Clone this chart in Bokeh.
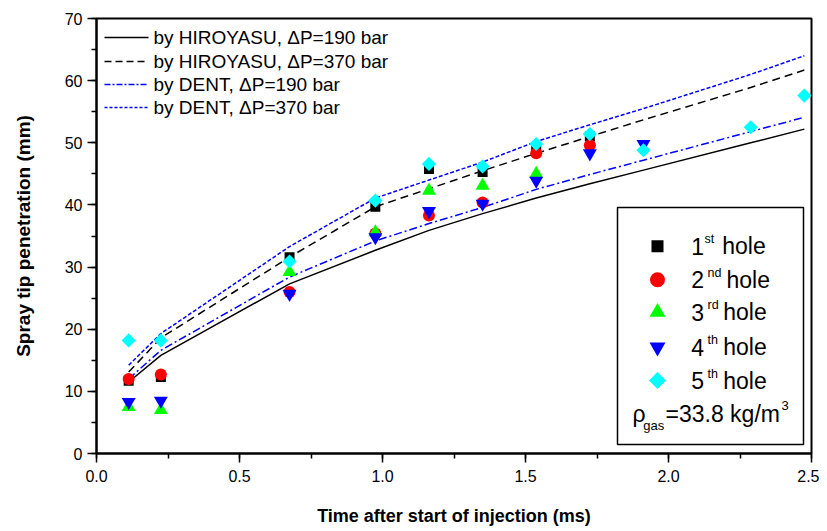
import numpy as np
from bokeh.plotting import figure
from bokeh.models import Range1d, SingleIntervalTicker, PrintfTickFormatter, Label
from bokeh.embed import file_html
from bokeh.resources import INLINE

# ---------------- data ----------------
times = [0.1125, 0.225, 0.675, 0.975, 1.1625, 1.35, 1.5375, 1.725, 1.9125, 2.2875, 2.475]

hiroyasu_190 = [11.5, 15.8, 27.3, 32.7, 35.9, 38.6, 41.1, 43.4, 45.6, 50.0, 52.2]
hiroyasu_370 = [13.1, 18.6, 31.6, 39.7, 42.6, 45.5, 48.3, 51.0, 53.7, 58.9, 61.7]
dent_190 = [12.0, 16.6, 28.4, 34.2, 37.0, 39.6, 42.5, 44.9, 47.2, 51.8, 54.1]
dent_370 = [14.2, 19.3, 33.3, 41.1, 44.0, 46.9, 50.2, 52.9, 55.5, 61.0, 64.0]

hole1_t = [0.1125, 0.225, 0.675, 0.975, 1.1625, 1.35, 1.5375, 1.725]
hole1_s = [11.7, 12.3, 31.6, 39.7, 45.8, 45.3, 48.8, 51.0]
hole2_t = [0.1125, 0.225, 0.675, 0.975, 1.1625, 1.35, 1.5375, 1.725]
hole2_s = [12.0, 12.7, 26.0, 35.4, 38.3, 40.4, 48.3, 49.6]
hole3_t = [0.1125, 0.225, 0.675, 0.975, 1.1625, 1.35, 1.5375]
hole3_s = [7.5, 7.0, 29.2, 35.6, 42.3, 43.1, 45.0]
hole4_t = [0.1125, 0.225, 0.675, 0.975, 1.1625, 1.35, 1.5375, 1.725, 1.9125]
hole4_s = [8.3, 8.5, 25.7, 34.8, 39.0, 40.2, 43.9, 48.3, 49.8]
hole5_t = [0.1125, 0.225, 0.675, 0.975, 1.1625, 1.35, 1.5375, 1.725, 1.9125, 2.2875, 2.475]
hole5_s = [18.2, 18.2, 30.9, 40.7, 46.6, 46.2, 49.8, 51.4, 48.8, 52.5, 57.6]

line_labels = ["by HIROYASU, \u0394P=190 bar", "by HIROYASU, \u0394P=370 bar",
               "by DENT, \u0394P=190 bar", "by DENT, \u0394P=370 bar"]
hole_nums = ["1", "2", "3", "4", "5"]
hole_sups = ["st", "nd", "rd", "th", "th"]
x_title = "Time after start of injection (ms)"
y_title = "Spray tip penetration (mm)"

# ---------------- figure ----------------
FW, FH = 715, 435
FONT = "Liberation Sans"

p = figure(width=819, height=531, output_backend="svg", toolbar_location=None,
           x_range=Range1d(0, 2.5), y_range=Range1d(0, 70),
           min_border_left=96, min_border_right=8, min_border_top=18, min_border_bottom=78)
p.extra_x_ranges = {"px": Range1d(0, FW)}
p.extra_y_ranges = {"py": Range1d(0, FH)}
p.grid.visible = False
p.outline_line_color = "black"
p.outline_line_width = 2
p.background_fill_color = "white"
p.border_fill_color = "white"

p.xaxis.ticker = SingleIntervalTicker(interval=0.5, num_minor_ticks=2)
p.yaxis.ticker = SingleIntervalTicker(interval=10, num_minor_ticks=2)
p.xaxis.formatter = PrintfTickFormatter(format="%.1f")
for ax in (p.xaxis, p.yaxis):
    ax.axis_line_width = 2
    ax.axis_line_color = "black"
    ax.major_tick_line_width = 1.5
    ax.minor_tick_line_width = 1.5
    ax.major_tick_in = 0
    ax.major_tick_out = 9
    ax.minor_tick_in = 0
    ax.minor_tick_out = 5
    ax.major_label_text_color = "black"
    ax.major_label_text_font = FONT
    ax.axis_label_text_color = "black"
    ax.axis_label_text_font = FONT
    ax.axis_label_text_font_style = "bold"

p.xaxis.major_label_text_font_size = "16px"
p.xaxis.major_label_standoff = 7
p.xaxis.axis_label = x_title
p.xaxis.axis_label_text_font_size = "18px"
p.xaxis.axis_label_standoff = 21

p.yaxis.major_label_text_font_size = "16px"
p.yaxis.major_label_standoff = 5
p.yaxis.axis_label = y_title
p.yaxis.axis_label_text_font_size = "19px"
p.yaxis.axis_label_standoff = 28

# model lines
styles = [("black", None), ("black", "8 5"), ("#0000ff", "8 3 2 3"), ("#0000ff", "4 2")]
series = [hiroyasu_190, hiroyasu_370, dent_190, dent_370]
for (c, d), ys in zip(styles, series):
    kw = {} if d is None else {"line_dash": d}
    p.line(times, ys, line_color=c, line_width=1.5, **kw)

# measured points
p.scatter(hole1_t, hole1_s, marker="square", size=10, fill_color="black", line_color=None)
p.scatter(hole2_t, hole2_s, marker="circle", size=12, fill_color="#ff0000", line_color=None)
p.scatter(hole3_t, hole3_s, marker="triangle", size=14, fill_color="#00ff00", line_color=None)
p.scatter(hole4_t, hole4_s, marker="inverted_triangle", size=14, fill_color="#0000ff", line_color=None)
p.scatter(hole5_t, hole5_s, marker="square", angle=np.pi / 4, size=10, fill_color="#00ffff", line_color=None)


# ---------------- legends (frame-pixel layout, y measured from frame top) ----------------
def fy(y):
    return FH - y


def lab(x, y, text, size):
    # y is the visual middle of the text line
    p.add_layout(Label(x=x, y=fy(y), x_range_name="px", y_range_name="py", text=text,
                       text_font=FONT, text_font_size=f"{size}px", text_color="black",
                       text_baseline="middle", text_align="left"))


# line legend (top left, no border)
leg_rows = [19, 43, 66, 89]
leg_styles = [("black", None), ("black", "7 4"), ("#0000ff", "6 2 2 2"), ("#0000ff", "3 2")]
for (c, d), ry, txt in zip(leg_styles, leg_rows, line_labels):
    kw = {} if d is None else {"line_dash": d}
    p.line([8, 52], [fy(ry), fy(ry)], x_range_name="px", y_range_name="py",
           line_color=c, line_width=1.5, **kw)
    lab(57, ry, txt, 19)

# marker legend box (bottom right)
p.quad(left=[521], right=[707], top=[fy(189)], bottom=[fy(426)],
       x_range_name="px", y_range_name="py",
       fill_color="white", line_color="black", line_width=1.5)

row_y = [227.7, 261.3, 293.7, 328.7, 362.0]
mk = [("square", 12, "black", 0), ("circle", 15, "#ff0000", 0),
      ("triangle", 16, "#00ff00", 0), ("inverted_triangle", 16, "#0000ff", 0),
      ("square", 12, "#00ffff", np.pi / 4)]
for (m, s, c, a), ry in zip(mk, row_y):
    p.scatter([561], [fy(ry)], x_range_name="px", y_range_name="py",
              marker=m, size=s, fill_color=c, line_color=None, angle=a)

sup_x = [608, 611, 611, 611, 611]
hole_x = [625.7, 630, 626.7, 626.7, 626.7]
for i, ry in enumerate(row_y):
    lab(594.7, ry, hole_nums[i], 23)
    lab(sup_x[i], ry - 7, hole_sups[i], 12.5)
    lab(hole_x[i], ry, "hole", 23)

lab(536, 395.4, "\u03c1", 23)
lab(546.7, 407.3, "gas", 13)
lab(569, 395.4, "=33.8 kg/m", 23)
lab(685, 387.3, "3", 13)

open("out.html", "w").write(file_html(p, INLINE))
